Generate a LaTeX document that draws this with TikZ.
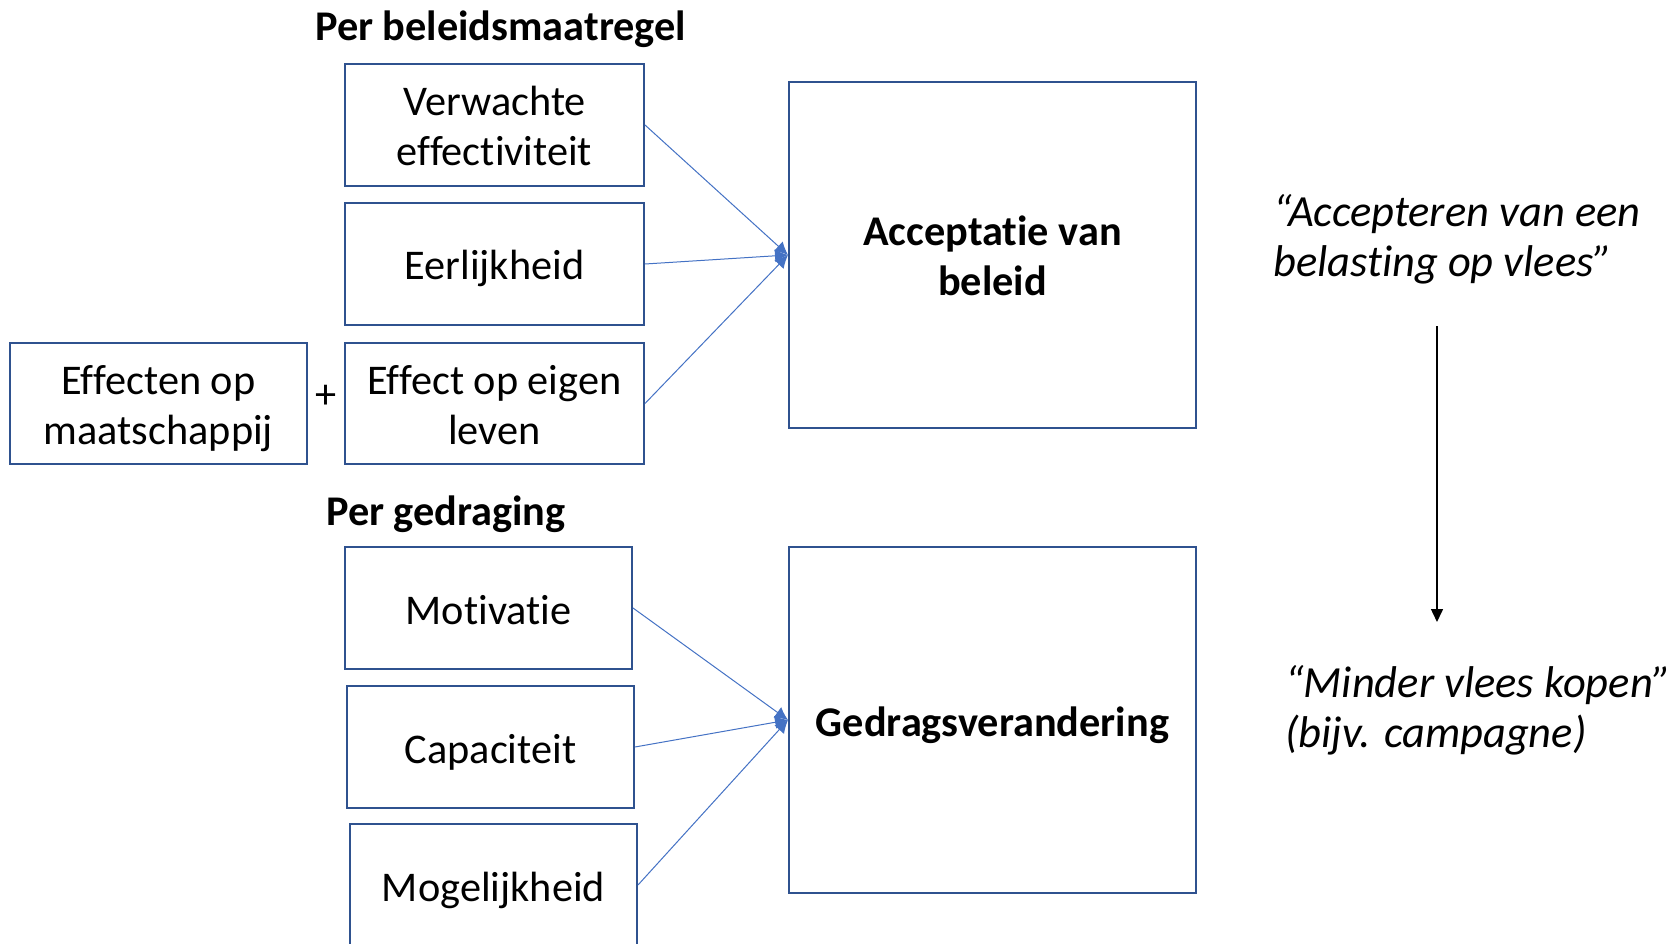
\documentclass[tikz,border=0pt]{standalone}
\usepackage{fontspec}
\setmainfont{Carlito}[Ligatures={NoCommon}]
\usetikzlibrary{arrows.meta}
\definecolor{boxblue}{RGB}{47,82,143}
\definecolor{lineblue}{RGB}{68,114,196}
\newcommand\bt[1]{\raisebox{-6pt}[\height][\depth]{\begin{tabular}{@{}c@{}}#1\end{tabular}}}
\tikzset{
  box/.style={draw=boxblue, line width=2pt, fill=white, align=center, inner sep=0pt, font=\fontsize{42.3}{50}\selectfont},
  bigbox/.style={box, font=\fontsize{42.3}{50}\selectfont\bfseries},
  conn/.style={draw=lineblue, line width=1pt, -{Latex[length=13pt,width=13pt]}},
  lbl/.style={inner sep=0pt, anchor=west, font=\fontsize{42.3}{50}\selectfont\bfseries},
  quote/.style={inner sep=0pt, anchor=west, align=left, font=\fontsize{44.5}{50}\selectfont\itshape},
}
\begin{document}
\begin{tikzpicture}[x=1pt, y=-1pt]
\useasboundingbox (0,0) rectangle (1674,944);
\clip (0,0) rectangle (1674,944);
\node[lbl] (t1) at (315,29) {Per beleidsmaatregel};
\node[lbl] (t2) at (326,514) {Per gedraging};

\node[box, minimum width=299pt, minimum height=122pt] (A) at (494.5,125) {\bt{Verwachte\\effectiviteit}};
\node[box, minimum width=299pt, minimum height=122pt] (B) at (494.5,264) {\bt{Eerlijkheid}};
\node[box, minimum width=299pt, minimum height=121pt] (C) at (494.5,403.5) {\bt{Effect op eigen\\leven}};
\node[box, minimum width=297pt, minimum height=121pt] (E) at (158.5,403.5) {\bt{Effecten op\\maatschappij}};
\node[inner sep=0pt, font=\fontsize{42.3}{50}\selectfont] (plus) at (326,397) {+};

\node[bigbox, minimum width=407pt, minimum height=346pt] (Acc) at (992.5,255) {\bt{Acceptatie van\\beleid}};

\node[box, minimum width=287pt, minimum height=122pt] (M) at (488.5,608) {\bt{Motivatie}};
\node[box, minimum width=287pt, minimum height=122pt] (Cp) at (490.5,747) {\bt{Capaciteit}};
\node[box, minimum width=287pt, minimum height=122pt] (Mg) at (493.5,885) {\bt{Mogelijkheid}};

\node[bigbox, minimum width=407pt, minimum height=346pt] (G) at (992.5,720) {\bt{Gedragsverandering}};

\draw[conn] (A.east) -- (Acc.west);
\draw[conn] (B.east) -- (Acc.west);
\draw[conn] (C.east) -- (Acc.west);
\draw[conn] (M.east) -- (G.west);
\draw[conn] (Cp.east) -- (G.west);
\draw[conn] (Mg.east) -- (G.west);

\node[quote] (Q1) at (1273,239) {“Accepteren van een\\belasting op vlees”};
\node[quote] (Q2) at (1285,710) {“Minder vlees kopen”\\(bijv. campagne)};

\coordinate (s) at (1437,326);
\coordinate (e) at (1437,622);
\draw[line width=1.5pt, -{Triangle[length=13pt,width=12pt]}] (s) -- (e);
\end{tikzpicture}
\end{document}
